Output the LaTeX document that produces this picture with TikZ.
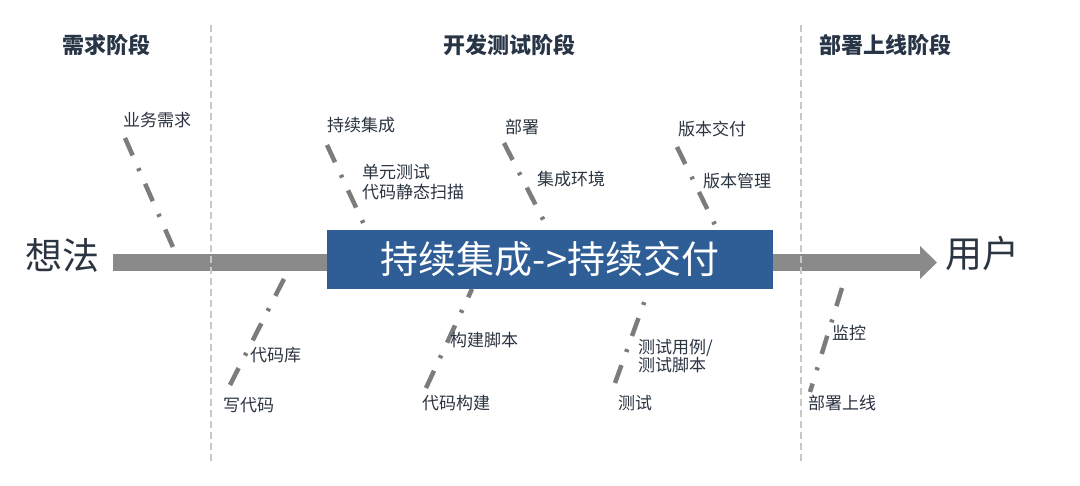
\documentclass[tikz,border=0pt]{standalone}
\usepackage{fontspec}
\setmainfont{Noto Sans CJK SC}
\usetikzlibrary{arrows.meta}
\definecolor{txt}{HTML}{2B3441}
\definecolor{hdr}{HTML}{283546}
\definecolor{boxblue}{HTML}{2F5D96}
\definecolor{spine}{HTML}{8A8A8A}
\definecolor{bonegray}{HTML}{7C7C7C}
\definecolor{sepgray}{HTML}{C8C8C8}
\tikzset{
  header/.style={text=hdr, font=\fontsize{22pt}{26pt}\selectfont\bfseries, inner sep=0pt},
  lbl/.style={text=txt, font=\fontsize{17pt}{20pt}\selectfont, inner sep=0pt, anchor=west, align=left},
  big/.style={text=txt, font=\fontsize{37pt}{40pt}\selectfont, inner sep=0pt},
  bone/.style={draw=bonegray, line width=4.5pt, dash pattern=on 19pt off 14pt on 3pt off 14pt},
  sep/.style={draw=sepgray, line width=2.2pt, dash pattern=on 7pt off 4pt},
  spinearrow/.style={draw=spine, line width=17pt, -{Triangle[length=17pt,width=32pt]}},
  cibox/.style={fill=boxblue, minimum width=446pt, minimum height=59pt, inner sep=0pt,
     text=white, font=\fontsize{38pt}{42pt}\selectfont}
}
\begin{document}
\begin{tikzpicture}[x=1pt,y=-1pt]
\useasboundingbox[fill=white] (0,0) rectangle (1080,486);

% headers
\node[header] (h1) at (106,45) {需求阶段};
\node[header] (h2) at (509,45) {开发测试阶段};
\node[header] (h3) at (885,45) {部署上线阶段};

% end labels
\node[big] (idea) at (62,255) {想法};
\node[big] (user) at (982,253) {用户};

% spine
\coordinate (s0) at (113,262.5);
\coordinate (s1) at (937,262.5);
\draw[spinearrow] (s0) -- (s1);

% separators
\coordinate (v1a) at (211,25); \coordinate (v1b) at (211,465);
\coordinate (v2a) at (801,25); \coordinate (v2b) at (801,465);
\draw[sep] (v1a) -- (v1b);
\draw[sep] (v2a) -- (v2b);

% top bones
\coordinate (b1a) at (125,138); \coordinate (b1b) at (176,254);
\coordinate (b2a) at (327,145); \coordinate (b2b) at (367,231);
\coordinate (b3a) at (504,143); \coordinate (b3b) at (549,231);
\coordinate (b4a) at (677,147); \coordinate (b4b) at (718,231);
\draw[bone] (b1a) -- (b1b);
\draw[bone] (b2a) -- (b2b);
\draw[bone] (b3a) -- (b3b);
\draw[bone] (b4a) -- (b4b);

% bottom bones
\coordinate (b5a) at (230,385); \coordinate (b5b) at (287.5,272);
\coordinate (b6a) at (426,388); \coordinate (b6b) at (472,289);
\coordinate (b7a) at (615,383); \coordinate (b7b) at (649,289);
\coordinate (b8a) at (842,288); \coordinate (b8b) at (810,392);
\draw[bone] (b5a) -- (b5b);
\draw[bone] (b6a) -- (b6b);
\draw[bone] (b7a) -- (b7b);
\draw[bone] (b8a) -- (b8b);

% central box
\node[cibox] (ci) at (550,259.5) {持续集成->持续交付};

% top labels
\node[lbl] (l1) at (123,120) {业务需求};
\node[lbl] (l2) at (327,125) {持续集成};
\node[lbl] (l2s) at (362,182) {单元测试\\代码静态扫描};
\node[lbl] (l3) at (505,127) {部署};
\node[lbl] (l3s) at (537,179) {集成环境};
\node[lbl] (l4) at (678,129) {版本交付};
\node[lbl] (l4s) at (703,181) {版本管理};

% bottom labels
\node[lbl] (l5) at (223,405) {写代码};
\node[lbl] (l5s) at (250,355) {代码库};
\node[lbl] (l6) at (422,403) {代码构建};
\node[lbl] (l6s) at (450,340) {构建脚本};
\node[lbl, font=\fontsize{17pt}{18.5pt}\selectfont] (l7s) at (638,356) {测试用例/\\测试脚本};
\node[lbl] (l7) at (618,403) {测试};
\node[lbl] (l8s) at (832,333) {监控};
\node[lbl] (l8) at (808,403) {部署上线};
\end{tikzpicture}
\end{document}
